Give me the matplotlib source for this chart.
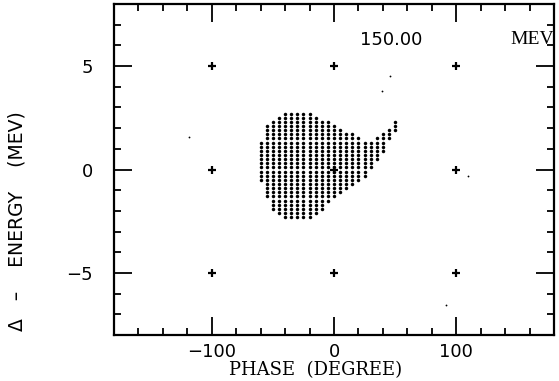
import matplotlib.pyplot as plt
import numpy as np

# beam particles: each column of the phase-space grid (phase, lowest / highest energy row)
col_x = [-60, -55, -50, -45, -40, -35, -30, -25, -20, -15, -10, -5,
         0, 5, 10, 15, 20, 25, 30, 35, 40, 45, 50]
col_lo = [-0.5, -1.3, -1.9, -2.1, -2.3, -2.3, -2.3, -2.3, -2.3, -2.1, -1.9, -1.5,
          -1.3, -1.1, -0.9, -0.7, -0.5, -0.3, 0.1, 0.5, 0.9, 1.5, 1.9]
col_hi = [1.3, 2.1, 2.3, 2.5, 2.7, 2.7, 2.7, 2.7, 2.7, 2.5, 2.3, 2.3,
          2.1, 1.9, 1.7, 1.7, 1.5, 1.3, 1.3, 1.5, 1.7, 1.9, 2.3]
row_step = 0.2

# lost particles scattered around
stray_x = [-119, 46, 39, 92, 110]
stray_y = [1.56, 4.5, 3.8, -6.55, -0.3]

# reference crosses
cross_x = [-100, 0, 100]
cross_y = [-5, 0, 5]

energy_label = "150.00"

px = []
py = []
for x, lo, hi in zip(col_x, col_lo, col_hi):
    n = int(round((hi - lo) / row_step)) + 1
    for k in range(n):
        px.append(x)
        py.append(lo + k * row_step)

fig = plt.figure(figsize=(5.59, 3.81), dpi=100)
ax = fig.add_axes([0.204, 0.1207, 0.787, 0.8688])

ax.plot(px, py, 'o', color='black', markersize=2.5, markeredgewidth=0)
ax.plot(stray_x, stray_y, 'o', color='black', markersize=1.3, markeredgewidth=0)
cx, cy = np.meshgrid(cross_x, cross_y)
ax.plot(cx.ravel(), cy.ravel(), '+', color='black', markersize=6, markeredgewidth=1.6)

ax.set_xlim(-180, 180)
ax.set_ylim(-8, 8)
ax.set_xticks([-100, 0, 100])
ax.set_xticks(np.arange(-160, 180, 20), minor=True)
ax.set_yticks([-5, 0, 5])
ax.set_yticks(np.arange(-7, 8, 1), minor=True)

ax.tick_params(which='both', direction='in', top=True, right=True, width=1.3, color='black')
ax.tick_params(which='major', length=13)
ax.tick_params(which='minor', length=5)
ax.tick_params(axis='x', which='major', labelsize=13, pad=6)
ax.tick_params(axis='y', which='major', labelsize=13, pad=15)
for lab in ax.get_xticklabels() + ax.get_yticklabels():
    lab.set_family('DejaVu Sans')

for sp in ax.spines.values():
    sp.set_linewidth(1.6)

ax.text(47, 6.28, energy_label, fontsize=13, family='DejaVu Sans',
        ha='center', va='center')
ax.text(144, 6.28, "MEV", fontsize=14, family='Liberation Serif',
        ha='left', va='center')

ax.set_xlabel("PHASE  (DEGREE)", fontsize=13, family='DejaVu Serif')
ax.xaxis.set_label_coords(0.459, -0.08)
ax.set_ylabel("\u0394   \u2013    ENERGY    (MEV)", fontsize=13.5, family='DejaVu Sans')
ax.yaxis.set_label_coords(-0.198, 0.344)

fig.savefig("out.png", dpi=100)
